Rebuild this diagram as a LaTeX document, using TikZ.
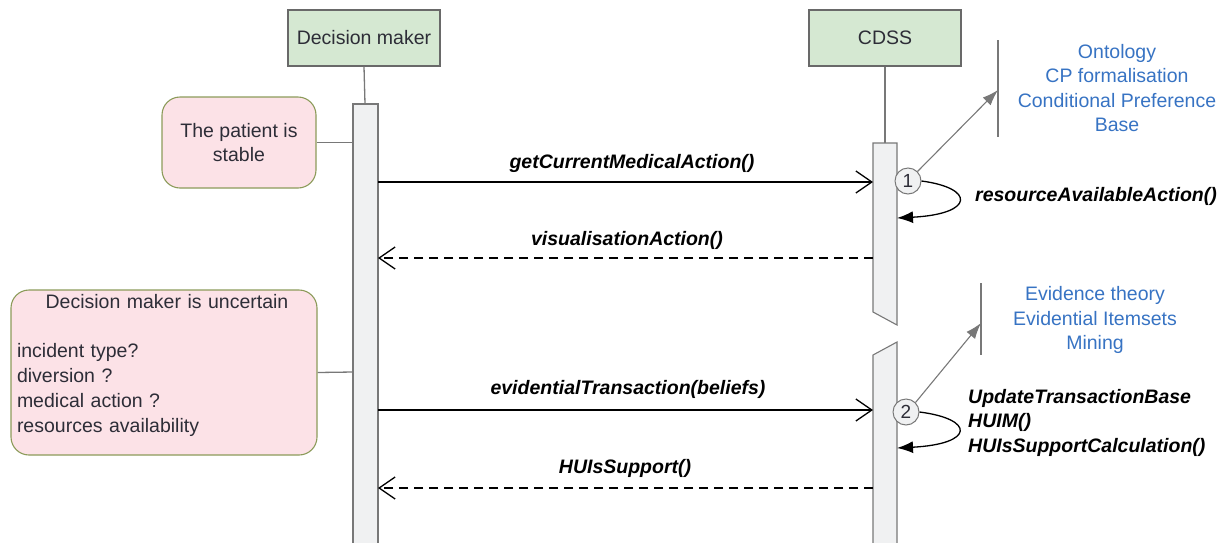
\documentclass[tikz,border=0pt]{standalone}
\usepackage{fontspec}
\setmainfont{Liberation Sans}
\usetikzlibrary{arrows.meta}
\definecolor{actorfill}{RGB}{213,232,210}
\definecolor{actordraw}{RGB}{105,105,105}
\definecolor{notefill}{RGB}{252,226,231}
\definecolor{notedraw}{RGB}{140,155,90}
\definecolor{kbblue}{RGB}{55,115,195}
\definecolor{barfill}{RGB}{240,241,242}
\definecolor{textdark}{RGB}{45,45,55}
\definecolor{linegray}{RGB}{120,120,120}
\begin{document}
\begin{tikzpicture}[x=1pt,y=-1pt,
  basefont/.style={font=\fontsize{19.5}{24.5}\selectfont},
  actor/.style={basefont, draw=actordraw, line width=1.3pt, fill=actorfill, minimum width=152pt, minimum height=56pt, inner sep=0pt, text=textdark},
  note/.style={basefont, draw=notedraw, line width=1.1pt, fill=notefill, rounded corners=18pt, inner sep=0pt, text=textdark},
  kb/.style={basefont, text=kbblue, align=center, inner sep=0pt},
  msglabel/.style={basefont, font=\fontsize{19.5}{24.5}\selectfont\bfseries\itshape, inner sep=0pt},
  bar/.style={draw=linegray, line width=1.1pt, fill=barfill},
  life/.style={draw=linegray, line width=1.3pt},
  call/.style={draw=black, line width=1.3pt, -{Straight Barb[length=16pt,width=22pt,line width=1.3pt]}},
  reply/.style={call, dash pattern=on 9pt off 6pt},
  selfcall/.style={draw=black, line width=1.3pt, -{Latex[length=16pt,width=12pt]}},
  ref/.style={draw=linegray, line width=1.1pt, -{Latex[length=16pt,width=11pt]}},
  kbbar/.style={draw=linegray, line width=1.3pt},
  step circ/.style={circle, draw=linegray, line width=1pt, fill=barfill, minimum size=26pt, inner sep=0pt, font=\fontsize{19}{20}\selectfont, text=textdark}
]
\useasboundingbox (0,0) rectangle (1229,542);

% actors
\node[actor] (dm) at (364,38) {Decision maker};
\node[actor] (cdss) at (885,38) {CDSS};

% lifelines
\coordinate (dmbartop) at (365,104);
\coordinate (cdssbartop) at (885,143);
\draw[life] (dm.south) -- (dmbartop);
\draw[life] (cdss.south) -- (cdssbartop);

% activation bars
\draw[bar] (353,104) rectangle (378,548);
\draw[bar] (873,143) -- (897,143) -- (897,325) -- (873,312) -- cycle;
\draw[bar] (873,355) -- (897,342) -- (897,548) -- (873,548) -- cycle;

% notes
\node[note, minimum width=154pt, minimum height=91pt, align=center] (n1) at (239,142.5) {The patient is\\stable};
\coordinate (n1c) at (353,142.5);
\draw[life] (n1.east) -- (n1c);

\node[note, minimum width=306pt, minimum height=165pt] (n2) at (164,372.5) {};
\node[font=\fontsize{19.5}{24.8}\selectfont, text=textdark, text width=300pt, align=left, inner sep=0pt, anchor=north] (n2t) at (167,294) {\makebox[\linewidth][c]{Decision maker is uncertain}\\[24.8pt]incident type?\\diversion ?\\medical action ?\\resources availability};
\coordinate (n2c) at (353,372);
\draw[life] (n2.east) -- (n2c);

% message endpoints
\coordinate (m1s) at (378,182); \coordinate (m1e) at (873,182);
\coordinate (m2s) at (873,258); \coordinate (m2e) at (378,258);
\coordinate (m3s) at (378,410); \coordinate (m3e) at (873,410);
\coordinate (m4s) at (873,488); \coordinate (m4e) at (378,488);

\draw[call] (m1s) -- (m1e);
\draw[reply] (m2s) -- (m2e);
\draw[call] (m3s) -- (m3e);
\draw[reply] (m4s) -- (m4e);

\node[msglabel] (l1) at (632,163) {getCurrentMedicalAction()};
\node[msglabel] (l2) at (627,240) {visualisationAction()};
\node[msglabel] (l3) at (628,389) {evidentialTransaction(beliefs)};
\node[msglabel] (l4) at (625,468) {HUIsSupport()};

% knowledge bars
\coordinate (kb1top) at (998,40); \coordinate (kb1bot) at (998,137);
\coordinate (kb1hit) at (998,90);
\draw[kbbar] (kb1top) -- (kb1bot);
\coordinate (kb2top) at (981,283); \coordinate (kb2bot) at (981,355);
\coordinate (kb2hit) at (981,323);
\draw[kbbar] (kb2top) -- (kb2bot);

\node[kb] (kbt1) at (1117,88) {Ontology\\CP formalisation\\Conditional Preference\\Base};
\node[kb] (kbt2) at (1095,320) {Evidence theory\\Evidential Itemsets\\Mining};

% step circles
\node[step circ] (s1) at (908,181) {1};
\node[step circ] (s2) at (906,412) {2};

\draw[ref] (s1.north east) -- (kb1hit);
\draw[ref] (s2.north east) -- (kb2hit);

\coordinate (r1) at (897,218);
\coordinate (r2) at (897,448);
\draw[selfcall] (s1.east) .. controls (975,188) and (975,214) .. (r1);
\draw[selfcall] (s2.east) .. controls (975,419) and (975,444) .. (r2);

\node[msglabel, anchor=west] (sl1) at (975,196) {resourceAvailableAction()};
\node[msglabel, anchor=north west, align=left] (sl2) at (968,389) {UpdateTransactionBase\\HUIM()\\HUIsSupportCalculation()};
\end{tikzpicture}
\end{document}
